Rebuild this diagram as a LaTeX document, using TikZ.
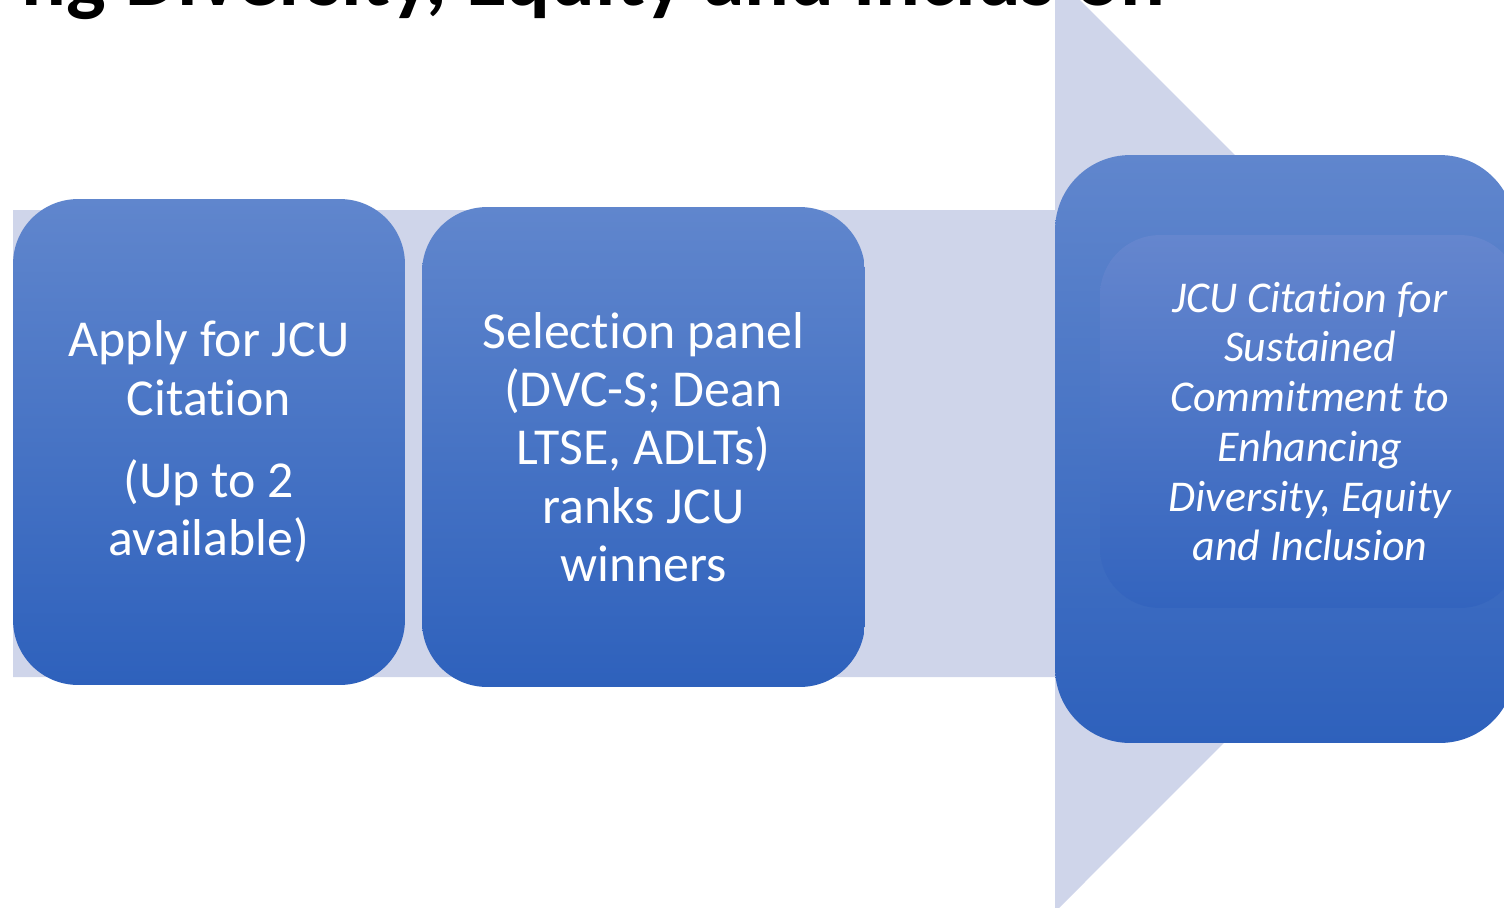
\documentclass[tikz,border=0pt]{standalone}
\usepackage{fontspec}
\setmainfont{Carlito}[RawFeature={-liga;-clig;-calt;-dlig}]
\usepackage{xcolor}
\usepackage{tikz}

\definecolor{bandlav}{HTML}{CFD5EA}
\definecolor{stepTop}{HTML}{6086CD}
\definecolor{stepBot}{HTML}{2E61BC}
\definecolor{innerTop}{HTML}{6586CE}
\definecolor{innerBot}{HTML}{3364BE}

% break the t-i ligature of Carlito
\newcommand{\tI}{t\kern0pt i}

\tikzset{
    stepbox/.style={rounded corners=1.3cm, top color=stepTop, bottom color=stepBot,
        text=white, align=center, inner sep=0pt,
        font=\fontsize{29.5}{33.2}\selectfont},
    innerbox/.style={rounded corners=1.2cm, top color=innerTop, bottom color=innerBot,
        text=white, align=center, inner sep=0pt,
        font=\fontsize{25}{28.3}\selectfont\itshape},
}

\begin{document}
\begin{tikzpicture}[x=0.02cm,y=-0.02cm]
    \useasboundingbox (0,0) rectangle (1504,907);

    % title, cut off at the top
    \node[anchor=base east, inner sep=0pt, font=\fontsize{47.6}{50}\selectfont\bfseries] (title) at (1165,5) {ng Diversity, Equity and Inclusion};

    % big arrow behind the steps
    \fill[bandlav] (13,210) -- (1055,210) -- (1055,-25) -- (1523,443.5) -- (1055,912) -- (1055,677) -- (13,677) -- cycle;

    \node[stepbox, minimum width=7.84cm, minimum height=9.72cm] (apply) at (209,442) {Apply for JCU\\Cita\tI on\\[13.6pt](Up to 2\\available)};
    \node[stepbox, minimum width=8.86cm, minimum height=9.6cm] (panel) at (643.5,447) {Selec\tI on panel\\(DVC-S; Dean\\LTSE, ADLTs)\\ranks JCU\\winners};
    \node[stepbox, rounded corners=1.5cm, minimum width=9.2cm, minimum height=11.76cm] (award) at (1285,449) {};
    \node[innerbox, minimum width=8.4cm, minimum height=7.46cm] (citation) at (1310,421.5) {JCU Cita\tI on for\\Sustained\\Commitment to\\Enhancing\\Diversity, Equity\\and Inclusion};
\end{tikzpicture}
\end{document}
